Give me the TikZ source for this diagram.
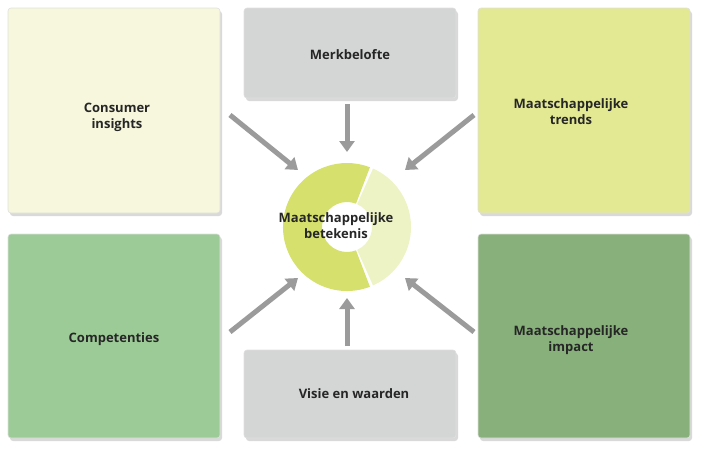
\documentclass[tikz,border=0pt]{standalone}
\usepackage{fontspec}
\setmainfont{Open Sans}
\usetikzlibrary{calc,arrows.meta}
\definecolor{cA}{HTML}{F6F7DC}
\definecolor{cG}{HTML}{D4D5D5}
\definecolor{cB}{HTML}{E3E992}
\definecolor{cC}{HTML}{9DCB97}
\definecolor{cD}{HTML}{88B07B}
\definecolor{ringA}{HTML}{D6E06C}
\definecolor{ringB}{HTML}{EEF3C6}
\definecolor{arr}{HTML}{9B9B9B}
\begin{document}
\begin{tikzpicture}[x=1pt,y=-1pt,
  box/.style={rounded corners=3pt,draw=black!12,line width=0.6pt},
  lbl/.style={font=\bfseries\fontsize{13}{16}\selectfont,align=center,text=black!85},
  ar/.style={draw=arr,line width=5pt,-{Triangle[width=15pt,length=11pt]}}]
\useasboundingbox (0,0) rectangle (706,448);
\foreach \a/\b/\c/\d/\col in {8/8/220/213/cA,244/8/456/98/cG,478/8/690/213/cB,8/234/220/438/cC,244/350/456/438/cG,478/234/690/438/cD}{
  \fill[black!15,rounded corners=3pt] (\a+2,\b+3) rectangle (\c+2,\d+3);
  \draw[box,fill=\col] (\a,\b) rectangle (\c,\d);}
\node[lbl] (tl) at (117,117) {Consumer\\insights};
\node[lbl] (tm) at (350,55) {Merkbelofte};
\node[lbl] (tr) at (571,112) {Maatschappelijke\\trends};
\node[lbl] (bl) at (114,339) {Competenties};
\node[lbl] (bm) at (354,394) {Visie en waarden};
\node[lbl] (br) at (571,340) {Maatschappelijke\\impact};
\coordinate (c) at (347,227);
\fill[ringA] ($(c)+(69:64)$) arc[start angle=69,end angle=291,radius=64] -- ($(c)+(291:25)$) arc[start angle=291,end angle=69,radius=25] -- cycle;
\fill[ringB] ($(c)+(-66:64)$) arc[start angle=-66,end angle=66,radius=64] -- ($(c)+(66:25)$) arc[start angle=66,end angle=-66,radius=25] -- cycle;
\node[lbl] (mid) at (336,226) {Maatschappelijke\\betekenis};
\coordinate (a1s) at (230,115); \coordinate (a1e) at (298,170);
\coordinate (a2s) at (347,104); \coordinate (a2e) at (347,152);
\coordinate (a3s) at (474,115); \coordinate (a3e) at (405,170);
\coordinate (a4s) at (230,332); \coordinate (a4e) at (298,278);
\coordinate (a5s) at (347,346); \coordinate (a5e) at (347,298);
\coordinate (a6s) at (474,332); \coordinate (a6e) at (405,278);
\foreach \i in {1,...,6}{\draw[ar] (a\i s) -- (a\i e);}
\end{tikzpicture}
\end{document}
